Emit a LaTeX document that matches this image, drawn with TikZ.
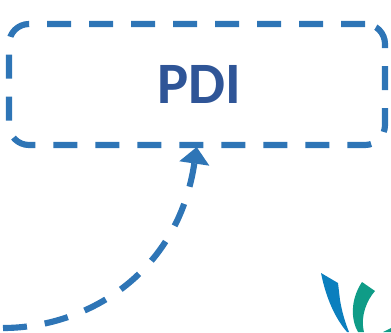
\documentclass[tikz,border=0pt]{standalone}
\usepackage{fontspec}
\setmainfont{Carlito}
\usetikzlibrary{arrows.meta}
\definecolor{linkblue}{HTML}{2E75B6}
\definecolor{textblue}{HTML}{2F5597}
\definecolor{logoblue}{HTML}{0B7FBE}
\definecolor{logogreen}{HTML}{0F9C87}

\begin{document}
\begin{tikzpicture}[x=0.75pt,y=-0.75pt,
    dashline/.style={draw=linkblue,line width=4.6pt,dash pattern=on 18pt off 13.5pt},
    pdibox/.style={dashline,rounded corners=15pt,minimum width=282pt,minimum height=90.75pt,
      outer sep=0pt,inner sep=0pt,text=textblue,font=\fontsize{44}{44}\selectfont\bfseries}]
   \useasboundingbox (0,0) rectangle (391,332);
   \node[pdibox] (pdi) at (197,84.5) {\hspace{3pt}\raisebox{-1.2pt}{PDI}};
   \coordinate (start) at (3,328);
   \draw[dashline,shorten >=1.5pt,-{Triangle[length=12.5pt,width=22pt]}] (start)
        .. controls (85,328) and (178,275) .. (pdi.south);
   % logo
   \fill[logoblue] (321,273) -- (338,283) -- (340,300) .. controls (342,312) and (345,322) .. (349,332)
        -- (347,332) .. controls (335,318) and (326,298) .. cycle;
   \fill[logogreen] (362,282) -- (375,291) .. controls (367,300) and (360,316) .. (364,332)
        -- (358,332) .. controls (351,320) and (350,300) .. cycle;
   \fill[logogreen] (383,332) -- (391,328) -- (391,332) -- cycle;
\end{tikzpicture}
\end{document}
